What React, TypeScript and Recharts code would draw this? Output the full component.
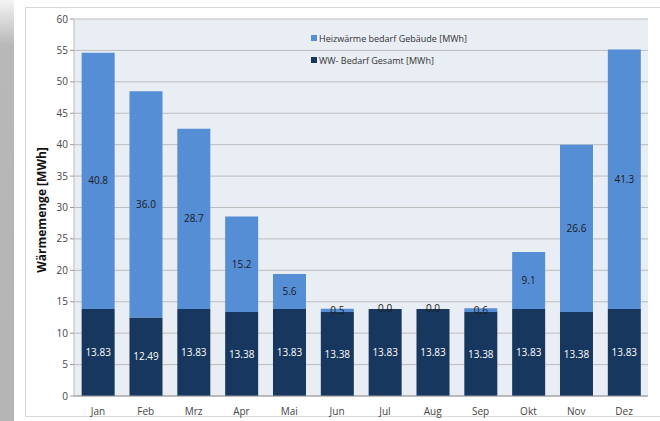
import { Bar, BarChart, CartesianGrid, LabelList, XAxis, YAxis } from 'recharts'

const months = ['Jan', 'Feb', 'Mrz', 'Apr', 'Mai', 'Jun', 'Jul', 'Aug', 'Sep', 'Okt', 'Nov', 'Dez']
const wwBedarf = [13.83, 12.49, 13.83, 13.38, 13.83, 13.38, 13.83, 13.83, 13.38, 13.83, 13.38, 13.83]
const heizBedarf = [40.8, 36.0, 28.7, 15.2, 5.6, 0.5, 0.0, 0.0, 0.6, 9.1, 26.6, 41.3]
const yTicks = [0, 5, 10, 15, 20, 25, 30, 35, 40, 45, 50, 55, 60]

const HEIZ_NAME = 'Heizwärme bedarf Gebäude [MWh]'
const WW_NAME = 'WW- Bedarf Gesamt [MWh]'
const LIGHT = '#558ed5'
const DARK = '#17375e'
const FONT = '"Open Sans", "Liberation Sans", sans-serif'

const data = months.map((m, i) => ({ month: m, ww: wwBedarf[i], heiz: heizBedarf[i] }))

// legend drawn outside recharts so it does not eat plot space
function LegendBox() {
  const items = [
    { name: HEIZ_NAME, color: LIGHT },
    { name: WW_NAME, color: DARK },
  ]
  return (
    <div style={{ position: 'absolute', left: 311, top: 27, fontFamily: FONT, fontSize: 9, color: '#333' }}>
      {items.map((it) => (
        <div key={it.name} style={{ display: 'flex', alignItems: 'center', height: 22, whiteSpace: 'nowrap' }}>
          <span style={{ width: 6, height: 6, background: it.color, marginRight: 2 }} />
          {it.name}
        </div>
      ))}
    </div>
  )
}

// zero-height heating bars are not drawn, so put their "0.0" on top of the WW bar
function ZeroHeizLabel(props: any) {
  const { x, y, width, index } = props
  if (heizBedarf[index] !== 0) return null
  return (
    <text x={x + width / 2} y={y} dy={3} textAnchor="middle" fontSize={10} fontFamily={FONT} fill="#1a1a1a">
      {heizBedarf[index].toFixed(1)}
    </text>
  )
}

export default function App() {
  return (
    <div style={{ position: 'fixed', left: 0, top: 0, width: 660, height: 421, background: '#fff', overflow: 'hidden' }}>
      <div
        style={{
          position: 'absolute',
          left: 0,
          top: 0,
          width: 14,
          height: 421,
          background: 'linear-gradient(to bottom, #f4f4f4 0px, #b8b8b8 45px, #b4b4b4 100%)',
        }}
      />
      <div
        style={{
          position: 'absolute',
          left: 25,
          top: 7,
          width: 640,
          height: 410,
          border: '1px solid #d9d9d9',
          boxSizing: 'border-box',
        }}
      />
      <div style={{ position: 'absolute', left: 0, top: 0 }}>
        <BarChart
          width={660}
          height={421}
          data={data}
          margin={{ top: 19, right: 12, left: 0, bottom: 0 }}
          barCategoryGap="16%"
        >
          <CartesianGrid vertical={false} stroke="#bdbdbd" fill="#e9edf4" />
          <XAxis
            dataKey="month"
            height={25}
            tick={{ fill: '#444', fontSize: 10, fontFamily: FONT }}
            tickLine={false}
            axisLine={{ stroke: '#9a9a9a' }}
            tickMargin={6}
          />
          <YAxis
            width={74}
            domain={[0, 60]}
            ticks={yTicks}
            interval={0}
            tick={{ fill: '#444', fontSize: 10, fontFamily: FONT }}
            tickLine={{ stroke: '#9a9a9a' }}
            tickSize={4}
            axisLine={{ stroke: '#bdbdbd' }}
            label={{
              content: () => (
                <text
                  x={46}
                  y={210}
                  transform="rotate(-90 46 210)"
                  textAnchor="middle"
                  fontFamily={FONT}
                  fontSize={12}
                  fontWeight="bold"
                  fill="#111"
                >
                  Wärmemenge  [MWh]
                </text>
              ),
            }}
          />
          <Bar dataKey="ww" name={WW_NAME} stackId="a" fill={DARK} isAnimationActive={false}>
            <LabelList
              dataKey="ww"
              position="center"
              formatter={(v: number) => v.toFixed(2)}
              style={{ fill: '#fff', fontSize: 10, fontFamily: FONT }}
            />
            <LabelList dataKey="heiz" content={ZeroHeizLabel} />
          </Bar>
          <Bar dataKey="heiz" name={HEIZ_NAME} stackId="a" fill={LIGHT} isAnimationActive={false}>
            <LabelList
              dataKey="heiz"
              position="center"
              formatter={(v: number) => v.toFixed(1)}
              style={{ fill: '#1a1a1a', fontSize: 10, fontFamily: FONT }}
            />
          </Bar>
        </BarChart>
      </div>
      <LegendBox />
    </div>
  )
}
